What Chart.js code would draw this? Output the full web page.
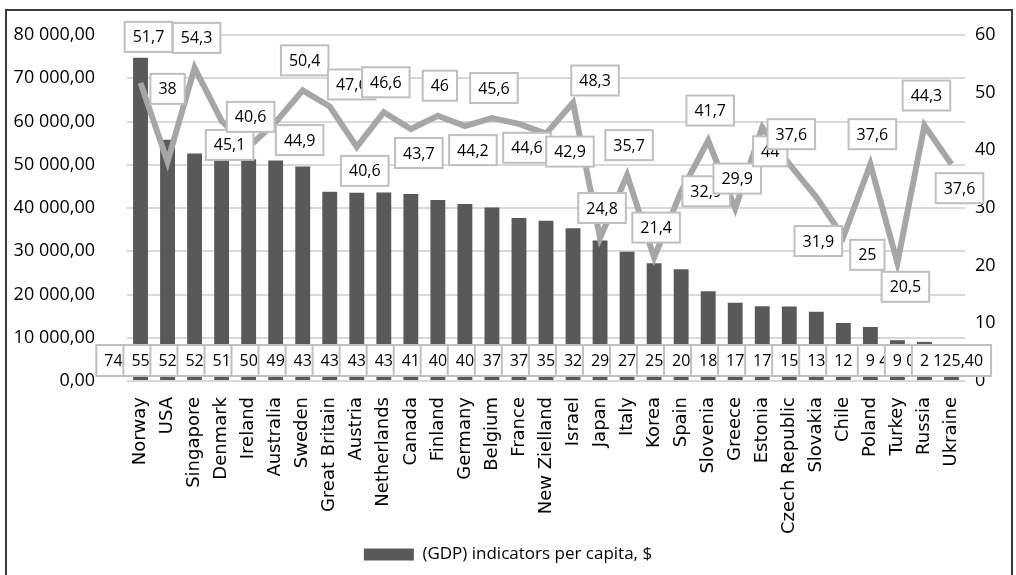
<!DOCTYPE html>
<html>
<head>
<meta charset="utf-8">
<script src="https://cdn.jsdelivr.net/npm/chart.js@4.4.1/dist/chart.umd.min.js"></script>
<style>
    body { margin: 0; background: #fff; }
    #wrap { position: relative; width: 1016px; height: 575px; }
    #frame { position: absolute; left: 5px; top: 9px; width: 1004px; height: 600px; border: 2px solid #3a3a3a; pointer-events: none; }
</style>
</head>
<body>
<div id="wrap"><canvas id="grafico"></canvas><div id="frame"></div></div>
<script>
const countries = ['Norway', 'USA', 'Singapore', 'Denmark', 'Ireland', 'Australia', 'Sweden', 'Great Britain',
    'Austria', 'Netherlands', 'Canada', 'Finland', 'Germany', 'Belgium', 'France', 'New Zielland', 'Israel',
    'Japan', 'Italy', 'Korea', 'Spain', 'Slovenia', 'Greece', 'Estonia', 'Czech Republic', 'Slovakia',
    'Chile', 'Poland', 'Turkey', 'Russia', 'Ukraine'];

// GDP per capita, $ (left axis)
const gdpPerCapita = [74734.01, 55805.20, 52600.30, 52002.15, 51284.10, 50962.40, 49582.80, 43771.60,
    43547.90, 43603.20, 43249.30, 41821.50, 40952.60, 40107.70, 37675.00, 37045.10, 35330.50,
    32480.80, 29870.40, 27200.90, 25830.60, 20730.20, 18064.30, 17288.10, 17230.90, 15992.60,
    13416.20, 12494.50, 9437.80, 9057.10, 2125.40];

// index values (right axis)
const indexValues = [51.7, 38, 54.3, 45.1, 40.6, 44.9, 50.4, 47.6, 40.6, 46.6, 43.7, 46, 44.2, 45.6, 44.6,
    42.9, 48.3, 24.8, 35.7, 21.4, 32.9, 41.7, 29.9, 44, 37.6, 31.9, 25, 37.6, 20.5, 44.3, 37.6];

// where each line label sits relative to its point
const linePlace = ['up2', 'up3', 'up', 'down', 'up', 'downR', 'up', 'upR', 'down', 'up', 'down', 'up', 'down',
    'up', 'down', 'downR', 'upR', 'up', 'up', 'up', 'right', 'up', 'up', 'down', 'up', 'down2', 'downR',
    'up', 'down', 'up', 'down'];
const placeShift = {
    up: [2, -30], up2: [8, -46], up3: [0, -73], down: [8, 24], down2: [2, 44],
    downR: [24, 18], upR: [22, -22], right: [25, 0]
};

function fmt(v, dec) {
    const parts = v.toFixed(dec).split('.');
    const ent = parts[0].replace(/\B(?=(\d{3})+(?!\d))/g, ' ');
    return dec ? ent + ',' + parts[1] : ent;
}

function box(c, x, y, w, h) {
    c.fillStyle = '#ffffff';
    c.fillRect(x, y, w, h);
    c.strokeStyle = '#bfbfbf';
    c.lineWidth = 2;
    c.strokeRect(x, y, w, h);
}

const labelBoxes = {
    id: 'labelBoxes',
    afterDatasetsDraw(chart) {
        const c = chart.ctx;
        c.save();
        c.font = '16px "Open Sans"';
        c.textBaseline = 'middle';

        // etiquetas de las barras, cada una tapa a la anterior
        const bars = chart.getDatasetMeta(1).data;
        const base = chart.scales.y.getPixelForValue(0);
        bars.forEach((bar, i) => {
            const txt = fmt(gdpPerCapita[i], 2);
            const w = c.measureText(txt).width + 16;
            const x = bar.x - w / 2, y = base - 36;
            box(c, x, y, w, 31);
            c.fillStyle = '#000';
            c.textAlign = 'left';
            c.fillText(txt, x + 8, y + 16);
        });

        // etiquetas de la linea
        const pts = chart.getDatasetMeta(0).data;
        pts.forEach((p, i) => {
            const txt = String(indexValues[i]).replace('.', ',');
            const shift = placeShift[linePlace[i]];
            const w = c.measureText(txt).width + 16;
            const cx = p.x + shift[0], cy = p.y + shift[1];
            box(c, cx - w / 2, cy - 15, w, 30);
            c.fillStyle = '#000';
            c.textAlign = 'center';
            c.fillText(txt, cx, cy + 1);
        });
        c.restore();
    }
};

const numFont = { family: 'Open Sans', size: 18 };

new Chart(document.getElementById('grafico').getContext('2d'), {
    data: {
        labels: countries,
        datasets: [{
            type: 'line',
            label: 'index',
            data: indexValues,
            yAxisID: 'y1',
            borderColor: '#a6a6a6',
            borderWidth: 6,
            pointRadius: 0,
            tension: 0,
            order: 0
        }, {
            type: 'bar',
            label: '(GDP) indicators per capita, $',
            data: gdpPerCapita,
            yAxisID: 'y',
            backgroundColor: '#595959',
            barPercentage: 0.55,
            categoryPercentage: 1,
            order: 1
        }]
    },
    options: {
        responsive: true,
        maintainAspectRatio: false,
        animation: false,
        layout: { padding: { top: 35, bottom: 2, left: 0, right: 0 } },
        plugins: {
            legend: {
                position: 'bottom',
                labels: {
                    filter: item => item.datasetIndex === 1,
                    boxWidth: 50,
                    boxHeight: 12,
                    color: '#000',
                    font: { family: 'Open Sans', size: 17 },
                    padding: 10
                }
            },
            tooltip: { enabled: false }
        },
        scales: {
            x: {
                grid: { display: false },
                border: { display: false },
                ticks: {
                    minRotation: 90,
                    maxRotation: 90,
                    autoSkip: false,
                    color: '#000',
                    font: { family: 'DejaVu Sans', size: 18 },
                    padding: 8
                },
                afterFit: s => { s.height = 155; }
            },
            y: {
                position: 'left',
                min: 0,
                max: 80000,
                ticks: { stepSize: 10000, callback: v => fmt(v, 2), color: '#000', font: numFont, padding: 5 },
                grid: { color: '#d9d9d9', lineWidth: 2, drawTicks: true, tickLength: 27, tickColor: 'rgba(0,0,0,0)' },
                border: { display: false },
                afterFit: s => { s.width = 127; }
            },
            y1: {
                position: 'right',
                min: 0,
                max: 60,
                ticks: { stepSize: 10, color: '#000', font: numFont, padding: 10 },
                grid: { drawOnChartArea: false, drawTicks: false },
                border: { display: false },
                afterFit: s => { s.width = 51; }
            }
        }
    },
    plugins: [labelBoxes]
});
</script>
</body>
</html>
